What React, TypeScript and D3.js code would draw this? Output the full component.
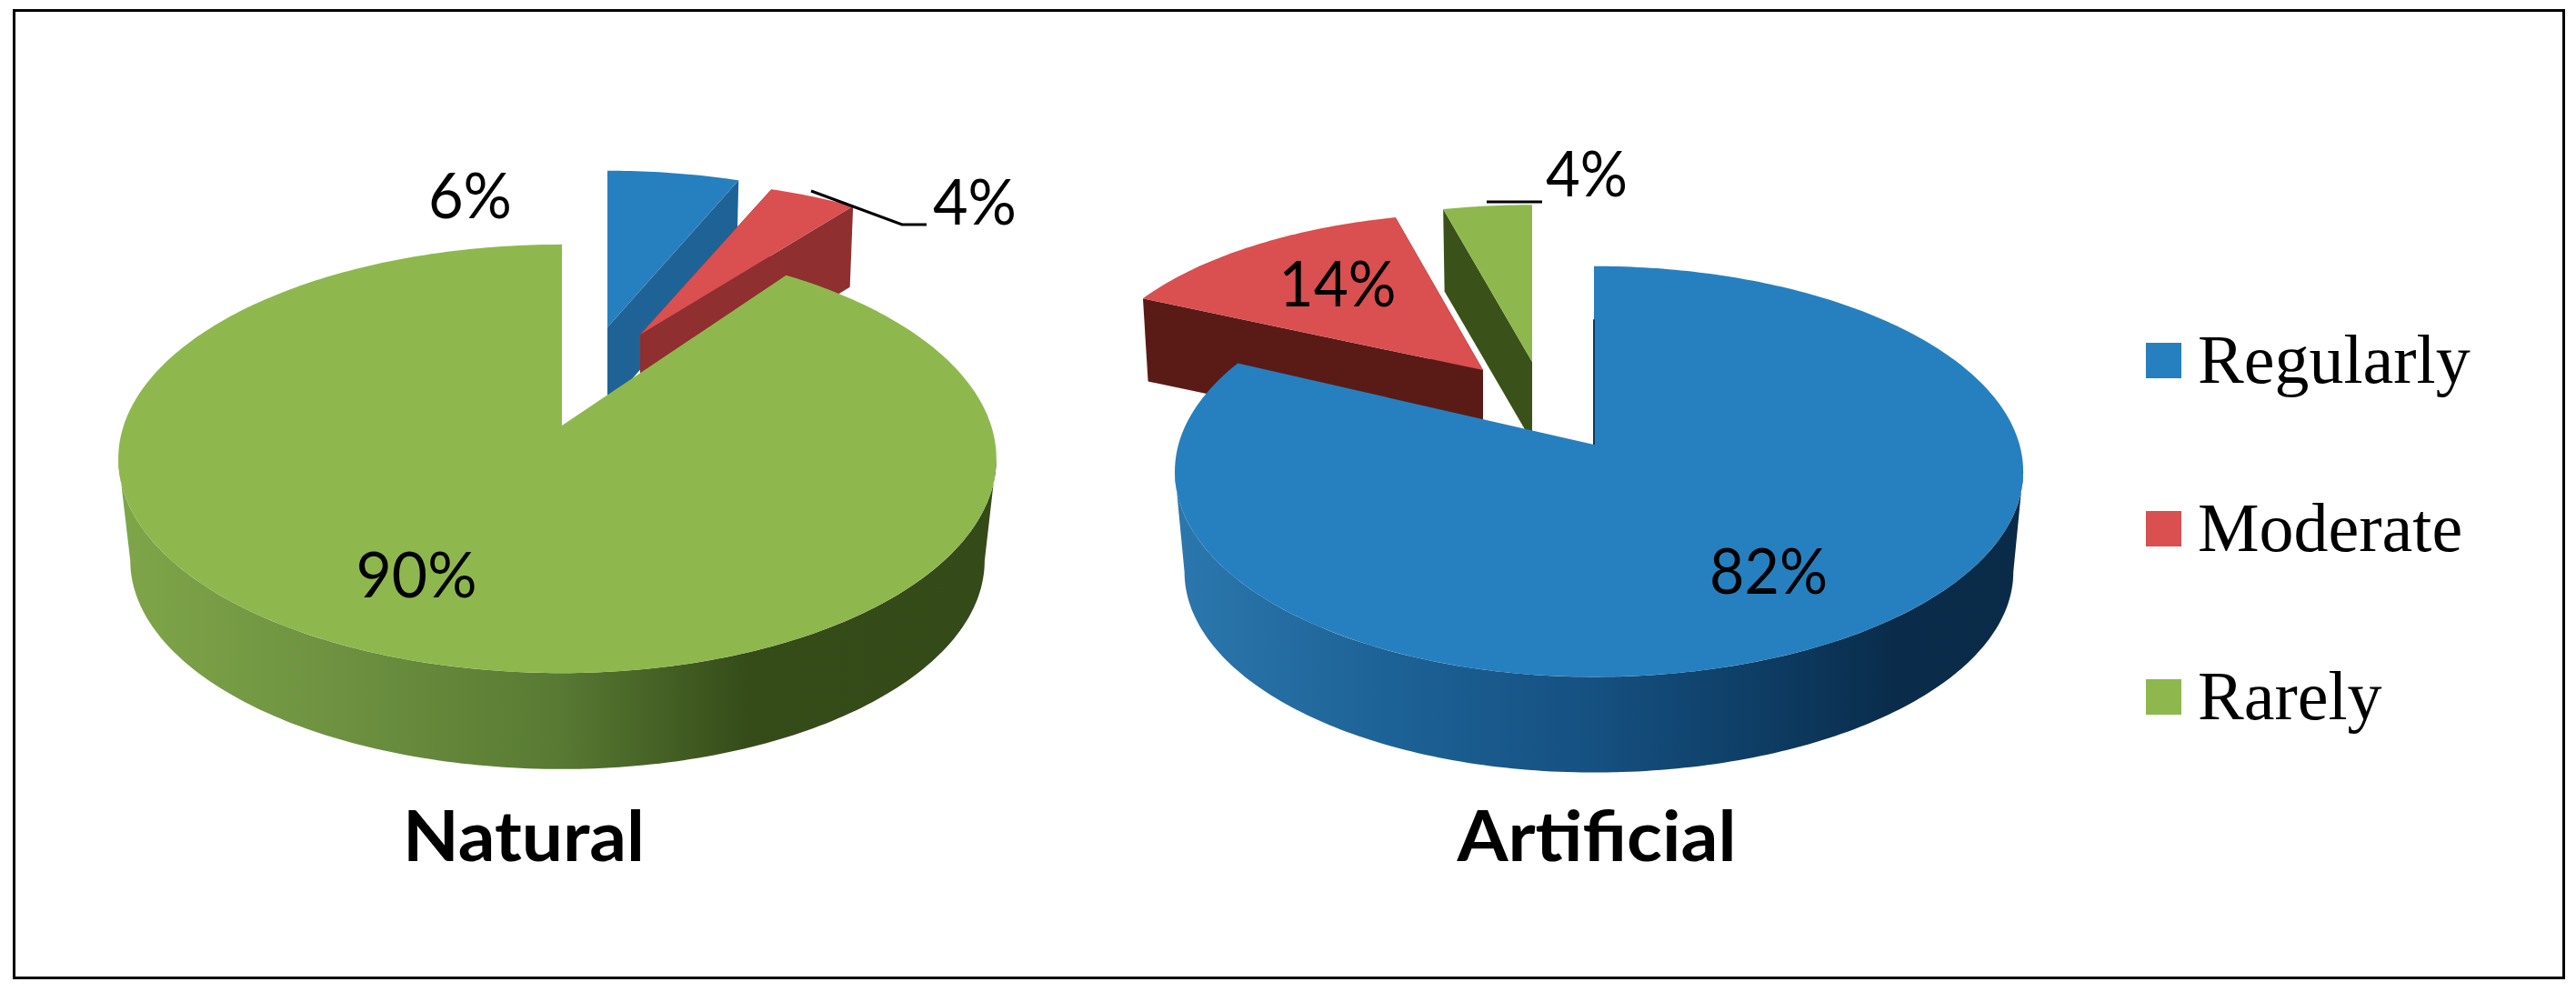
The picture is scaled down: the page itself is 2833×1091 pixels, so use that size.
import React from 'react'
import * as d3 from 'd3'

const categories = ['Regularly', 'Moderate', 'Rarely']
const naturalValues = [6, 4, 90]
const artificialValues = [82, 14, 4]
const chartTitles = ['Natural', 'Artificial']

const width = 2833
const height = 1091
const labelFont = 'Lato, Carlito, sans-serif'

const color = d3.scaleOrdinal<string, string>().domain(categories).range(['#2680bf', '#da4f4f', '#8eb84e'])

// 3d look: perspective disc, k is how fast things shrink to the back
type Pie3d = {
    title: string, values: number[], main: string, ax: number, ay: number, a: number, bl: number, br: number, k: number,
    depth: number, shrink: number, wallId: string, wallStops: [number, string][], cutColor: string | null,
    exploded: Record<string, { ax: number, ay: number, sx: number, sy: number, depth: number, side: string }>,
    titleX: number, titleW: number, labels: { text: string, x: number, y: number, w: number }[], leader: [number, number][],
}

const pies: Pie3d[] = [
    {
        title: chartTitles[0], values: naturalValues, main: 'Rarely',
        ax: 618, ay: 468, a: 230, bl: 482, br: 472, k: 0.155, depth: 113, shrink: 0.973,
        wallId: 'wall-natural',
        wallStops: [[0, '#7fa549'], [0.25, '#6d9140'], [0.5, '#587a33'], [0.72, '#354c19'], [1, '#344a18']],
        cutColor: null,
        exploded: {
            Regularly: { ax: 668, ay: 360, sx: 0.95, sy: 0.865, depth: 87, side: '#1f6396' },
            Moderate: { ax: 704, ay: 368, sx: 0.95, sy: 0.855, depth: 87, side: '#8f2f2f' },
        },
        titleX: 576, titleW: 266,
        labels: [
            { text: '6%', x: 517, y: 240, w: 92 },
            { text: '4%', x: 1072, y: 247, w: 92 },
            { text: '90%', x: 458, y: 657, w: 133 },
        ],
        leader: [[892, 210], [992, 247], [1019, 247]],
    },
    {
        title: chartTitles[1], values: artificialValues, main: 'Regularly',
        ax: 1753, ay: 489, a: 222, bl: 457, br: 468, k: 0.131, depth: 111, shrink: 0.977,
        wallId: 'wall-artificial',
        wallStops: [[0, '#2b77ad'], [0.25, '#1d6296'], [0.5, '#155080'], [0.72, '#0d3a60'], [0.85, '#0a2c4a'], [1, '#0a2b48']],
        cutColor: '#0d3a5e',
        exploded: {
            Rarely: { ax: 1685, ay: 398, sx: 0.97, sy: 0.88, depth: 88, side: '#3a5219' },
            Moderate: { ax: 1631, ay: 407, sx: 0.955, sy: 0.88, depth: 90, side: '#5a1b17' },
        },
        titleX: 1756, titleW: 307,
        labels: [
            { text: '14%', x: 1471, y: 337, w: 129 },
            { text: '4%', x: 1745, y: 216, w: 90 },
            { text: '82%', x: 1945, y: 653, w: 130 },
        ],
        leader: [[1635, 222], [1696, 222]],
    },
]

const legendY = d3.scalePoint<string>().domain(categories).range([396, 766])

const line = d3.line()
const pie = d3.pie<number>().sort(null).startAngle(0).endAngle(2 * Math.PI)

function projector(p: Pie3d, ax: number, ay: number, sx: number, sy: number, depth: number, shrink: number) {
    return (angle: number, lower = false): [number, number] => {
        const u = Math.sin(angle)
        const v = Math.cos(angle)
        const w = 1 + p.k * v
        const x = (u < 0 ? p.bl : p.br) * sx * u / w
        const y = -p.a * sy * v / w
        return lower ? [ax + x * shrink, ay + y * shrink + depth] : [ax + x, ay + y]
    }
}

function arcPoints(start: number, end: number, project: (a: number, l?: boolean) => [number, number], lower = false) {
    const n = Math.max(4, Math.ceil((end - start) * 60))
    return d3.range(n + 1).map(i => project(start + (end - start) * i / n, lower))
}

const PieView = ({ p }: { p: Pie3d }) => {
    const slices = pie(p.values).map((d, i) => ({ ...d, name: categories[i] }))
    const mainSlice = slices.find(s => s.name === p.main)!
    const others = slices.filter(s => s.name !== p.main).sort((s, t) => s.name === 'Moderate' ? 1 : t.name === 'Moderate' ? -1 : 0)
    const project = projector(p, p.ax, p.ay, 1, 1, p.depth, p.shrink)
    // wall is only seen between the two tangent points
    const tangent = Math.acos(-p.k)
    const wallFrom = tangent
    const wallTo = 2 * Math.PI - tangent
    const wall = [...arcPoints(wallFrom, wallTo, project), ...arcPoints(wallFrom, wallTo, project, true).reverse()]
    const wallX = d3.scaleLinear().domain([p.ax - p.bl, p.ax + p.br]).range([0, 1])

    return (
        <g>
            <defs>
                <linearGradient id={p.wallId} gradientUnits='userSpaceOnUse' x1={wallX.invert(0)} x2={wallX.invert(1)} y1={0} y2={0}>
                    {p.wallStops.map(([o, c]) => <stop key={o} offset={o} stopColor={c} />)}
                </linearGradient>
            </defs>
            {others.map(s => {
                const e = p.exploded[s.name]
                const proj = projector(p, e.ax, e.ay, e.sx, e.sy, e.depth, 0.985)
                const apex: [number, number] = [e.ax, e.ay]
                const apexLow: [number, number] = [e.ax, e.ay + e.depth]
                return (
                    <g key={s.name}>
                        {[s.startAngle, s.endAngle].map(a => (
                            <path key={a} fill={e.side} d={line([apex, proj(a), proj(a, true), apexLow]) + 'Z'} />
                        ))}
                        <path fill={color(s.name)} d={line([apex, ...arcPoints(s.startAngle, s.endAngle, proj)]) + 'Z'} />
                    </g>
                )
            })}
            <path fill={`url(#${p.wallId})`} d={line(wall) + 'Z'} />
            <path fill={color(p.main)} d={line([[p.ax, p.ay], ...arcPoints(mainSlice.startAngle, mainSlice.endAngle, project)]) + 'Z'} />
            {p.cutColor && (
                <line x1={p.ax} x2={p.ax} y1={p.ay - p.a * 0.62} y2={p.ay} stroke={p.cutColor} strokeWidth={2} />
            )}
            <path fill='none' stroke='#000' strokeWidth={3} d={line(p.leader)!} />
            {p.labels.map(l => (
                <text key={l.text + l.x} x={l.x} y={l.y} textAnchor='middle' fontFamily={labelFont} fontSize={70}
                    textLength={l.w} lengthAdjust='spacingAndGlyphs' fill='#000'>{l.text}</text>
            ))}
            <text x={p.titleX} y={947} textAnchor='middle' fontFamily={labelFont} fontWeight={700} fontSize={77}
                textLength={p.titleW} lengthAdjust='spacingAndGlyphs' fill='#000'>{p.title}</text>
        </g>
    )
}

const App = () => (
    <svg width={width} height={height} viewBox={`0 0 ${width} ${height}`}
        style={{ position: 'absolute', left: 0, top: 0, display: 'block', background: '#fff' }}>
        <rect x={15.5} y={11.5} width={2804} height={1064} fill='#fff' stroke='#000' strokeWidth={3} />
        {pies.map(p => <PieView key={p.title} p={p} />)}
        {categories.map(c => (
            <g key={c}>
                <rect x={2360} y={legendY(c)! - 19} width={39} height={39} fill={color(c)} />
                <text x={2417} y={legendY(c)! + 25} fontFamily='"Liberation Serif", serif' fontSize={76} fill='#000'>{c}</text>
            </g>
        ))}
    </svg>
)

export default App
